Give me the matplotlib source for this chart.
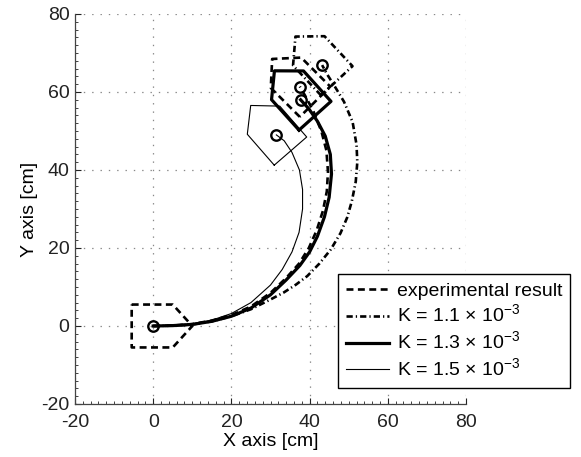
import numpy as np
import matplotlib
matplotlib.use('Agg')
import matplotlib.pyplot as plt
from matplotlib.ticker import MultipleLocator

plt.rcParams['font.family'] = ['Liberation Sans', 'DejaVu Sans']
plt.rcParams['mathtext.fontset'] = 'custom'
plt.rcParams['mathtext.rm'] = 'Liberation Sans'
plt.rcParams['axes.unicode_minus'] = False
plt.rcParams['lines.scale_dashes'] = False

# trajectories [cm]
exp_x = [0, 5, 10, 15, 20, 25, 30, 34, 37.3, 39.8, 41.8, 43.4, 44.4, 44.7, 44.3, 43, 41, 39, 37.5]
exp_y = [0, 0.1, 0.5, 1.4, 2.8, 5, 8.5, 12.3, 16, 20, 24.5, 29.5, 34.5, 39.5, 45, 50, 55, 58.8, 61.4]

k11_x = [0, 5, 10, 15, 20, 25, 30, 33.4, 36.5, 39.4, 42.5, 45.4, 47.9, 49.6, 50.8, 51.8, 52.2, 52, 51, 48.8, 46.4, 44.5, 43.2]
k11_y = [0, 0.1, 0.4, 1.2, 2.5, 4.3, 6.8, 8.6, 10.6, 12.8, 16, 19.6, 23.8, 27.8, 32, 37, 42, 46.5, 52.3, 57.5, 61.5, 64.5, 66.9]

k13_x = [0, 5, 10, 15, 20, 25, 30, 34, 37.5, 40, 42, 43.8, 45, 45.6, 45.3, 44, 42, 39.8, 37.7]
k13_y = [0, 0.1, 0.4, 1.2, 2.5, 4.6, 8, 11.8, 15.5, 19, 23, 28, 33, 39, 44, 48.7, 52.5, 55.7, 58]

k15_x = [0, 5, 10, 15, 20, 25, 30, 33, 35.5, 37.3, 38.2, 38.2, 37.4, 35.5, 33.5, 31.5]
k15_y = [0, 0.1, 0.5, 1.5, 3.2, 6, 10.5, 14.5, 19, 24, 30, 35, 40, 44.5, 47.5, 49]

# robot outline in body frame [cm]
body_x = [-5.5, 5, 10, 5, -5.5]
body_y = [5.5, 5.5, 0, -5.5, -5.5]

# final headings [deg]
exp_heading = 135
k11_heading = 133
k13_heading = 132
k15_heading = 131

labels = ['experimental result',
          r'K = 1.1 $\times$ 10$^{-3}$',
          r'K = 1.3 $\times$ 10$^{-3}$',
          r'K = 1.5 $\times$ 10$^{-3}$']


def outline(x0, y0, deg):
    t = np.deg2rad(deg)
    bx = np.array(body_x + body_x[:1])
    by = np.array(body_y + body_y[:1])
    return (x0 + bx * np.cos(t) - by * np.sin(t),
            y0 + bx * np.sin(t) + by * np.cos(t))


fig = plt.figure(figsize=(5.81, 4.57), dpi=100)
ax = fig.add_axes([75 / 581, 1 - 404 / 457, 391 / 581, 390 / 457])

sty_exp = dict(color='k', lw=1.9, dashes=(5, 3.2))
sty_11 = dict(color='k', lw=1.9, dashes=(4.5, 2.2, 0.9, 2.2))
sty_13 = dict(color='k', lw=2.3)
sty_15 = dict(color='k', lw=0.8)
mk = dict(marker='o', ms=7.5, mfc='none', mec='k', mew=1.7, ls='none')

l1, = ax.plot(exp_x, exp_y, label=labels[0], **sty_exp)
l2, = ax.plot(k11_x, k11_y, label=labels[1], **sty_11)
l3, = ax.plot(k13_x, k13_y, label=labels[2], **sty_13)
l4, = ax.plot(k15_x, k15_y, label=labels[3], **sty_15)

ax.plot(*outline(exp_x[0], exp_y[0], 0), **sty_exp)
ax.plot(exp_x[0], exp_y[0], **mk)

for xs, ys, hd, sty in [(exp_x, exp_y, exp_heading, sty_exp),
                        (k11_x, k11_y, k11_heading, sty_11),
                        (k13_x, k13_y, k13_heading, sty_13),
                        (k15_x, k15_y, k15_heading, sty_15)]:
    ax.plot(*outline(xs[-1], ys[-1], hd), **sty)
    ax.plot(xs[-1], ys[-1], **mk)

ax.set_xlim(-20, 80)
ax.set_ylim(-20, 80)
ax.xaxis.set_major_locator(MultipleLocator(20))
ax.yaxis.set_major_locator(MultipleLocator(20))
ax.xaxis.set_minor_locator(MultipleLocator(2))
ax.yaxis.set_minor_locator(MultipleLocator(2))
ax.tick_params(which='both', direction='in', labelsize=14, colors='#222222')
ax.tick_params(which='major', length=4, width=0.8)
ax.tick_params(which='minor', length=2, width=0.6)
ax.tick_params(axis='x', which='major', pad=7)
ax.tick_params(axis='y', which='major', pad=4)
ax.grid(True, which='major', color='#888888', ls=(0, (1, 5)), lw=0.9)
for s in ['top', 'right']:
    ax.spines[s].set_visible(False)
for s in ['left', 'bottom']:
    ax.spines[s].set_color('#444444')
    ax.spines[s].set_linewidth(0.9)

ax.set_xlabel('X axis [cm]', fontsize=14, labelpad=2)
ax.set_ylabel('Y axis [cm]', fontsize=14, labelpad=2)

leg = ax.legend(handles=[l1, l2, l3, l4], loc='lower right',
                bbox_to_anchor=(570 / 581, 1 - 388 / 457),
                bbox_transform=fig.transFigure, fontsize=14,
                fancybox=False, framealpha=1, edgecolor='k',
                handlelength=2.2, handletextpad=0.4, labelspacing=0.22,
                borderpad=0.4, borderaxespad=0)
leg.get_frame().set_linewidth(1.0)

fig.savefig('out.png', dpi=100)
